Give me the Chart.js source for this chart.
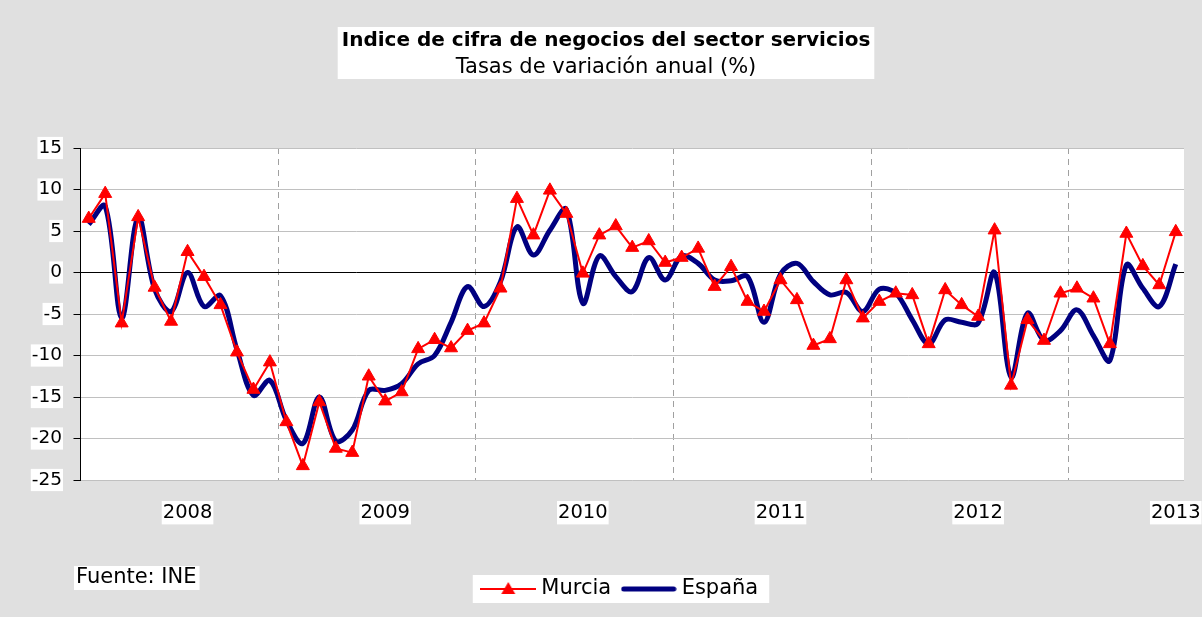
<!DOCTYPE html>
<html>
<head>
<meta charset="utf-8">
<script src="https://cdn.jsdelivr.net/npm/chart.js@4.4.1/dist/chart.umd.min.js"></script>
<style>
    html, body { margin: 0; padding: 0; background: #e0e0e0; }
    #wrap { width: 1202px; height: 617px; position: relative; }
</style>
</head>
<body>
<div id="wrap"><canvas id="serviciosChart"></canvas></div>
<script>
const titleText    = 'Indice de cifra de negocios del sector servicios'
const subtitleText = 'Tasas de variación anual (%)'
const sourceText   = 'Fuente: INE'

const years  = ['2008', '2009', '2010', '2011', '2012', '2013']
const months = ['ene', 'feb', 'mar', 'abr', 'may', 'jun', 'jul', 'ago', 'sep', 'oct', 'nov', 'dic']

// ene-2008 .. jul-2013
const categories = []
years.forEach(y => months.forEach(m => categories.push(m + '-' + y.slice(2))))
categories.length = 67

const murcia = [
    6.5, 9.5, -6.1, 6.7, -1.8, -5.9, 2.5, -0.5, -3.9, -9.6, -14.1, -10.8,
    -18.0, -23.3, -15.6, -21.2, -21.7, -12.5, -15.5, -14.4, -9.2, -8.1, -9.1, -7.0,
    -6.1, -1.9, 8.9, 4.5, 9.9, 7.1, -0.1, 4.5, 5.6, 3.0, 3.8, 1.2,
    1.8, 2.9, -1.7, 0.7, -3.5, -4.7, -0.9, -3.3, -8.8, -8.0, -0.9, -5.5,
    -3.5, -2.5, -2.7, -8.6, -2.1, -3.9, -5.3, 5.1, -13.6, -5.7, -8.2, -2.5,
    -1.9, -3.1, -8.6, 4.7, 0.8, -1.5, 4.9
]
const espana = [
    5.8, 8.0, -5.5, 6.7, -2.0, -4.7, 0.0, -4.1, -2.8, -9.3, -14.8, -13.0,
    -17.8, -20.6, -15.0, -20.3, -19.0, -14.2, -14.2, -13.4, -11.0, -10.0, -6.0, -1.7,
    -4.1, -1.1, 5.5, 2.1, 5.1, 7.6, -3.7, 2.0, -0.5, -2.3, 1.8, -0.9,
    2.0, 1.1, -0.9, -1.0, -0.5, -6.0, -0.2, 1.1, -1.1, -2.7, -2.4, -4.7,
    -2.0, -2.5, -5.7, -8.6, -5.7, -6.0, -6.1, 0.0, -12.6, -4.9, -8.2, -7.0,
    -4.5, -7.6, -10.6, 0.9, -1.9, -4.1, 1.0
]

const FONT = "'DejaVu Sans', sans-serif"

function makeIcon(draw) {
    const c = document.createElement('canvas')
    c.width = 56
    c.height = 18
    draw(c.getContext('2d'))
    return c
}

const legendIcons = [
    makeIcon(ctx => {
        ctx.strokeStyle = '#ff0000'
        ctx.lineWidth = 2
        ctx.beginPath(); ctx.moveTo(0, 9); ctx.lineTo(56, 9); ctx.stroke()
        ctx.fillStyle = '#ff0000'
        ctx.beginPath()
        ctx.moveTo(28, 2); ctx.lineTo(35, 14); ctx.lineTo(21, 14)
        ctx.closePath(); ctx.fill()
    }),
    makeIcon(ctx => {
        ctx.strokeStyle = '#000080'
        ctx.lineWidth = 5
        ctx.lineCap = 'round'
        ctx.beginPath(); ctx.moveTo(3, 9); ctx.lineTo(53, 9); ctx.stroke()
    })
]

// grey background, white plot area and white text boxes
const backdrop = {
    id: 'backdrop',
    afterLayout(chart) {
        chart.legend.left += 16
        chart.legend.right += 16
    },
    beforeDraw(chart) {
        const { ctx, chartArea: a, width, height } = chart
        ctx.save()
        ctx.fillStyle = '#e0e0e0'
        ctx.fillRect(0, 0, width, height)
        ctx.fillStyle = '#ffffff'
        ctx.fillRect(a.left, a.top, a.right - a.left, a.bottom - a.top)

        ctx.font = 'bold 20px ' + FONT
        const tw = ctx.measureText(titleText).width
        const cx = (chart.titleBlock.left + chart.titleBlock.right) / 2
        ctx.fillRect(cx - tw / 2 - 4, 27, tw + 8, 52)

        const hb = chart.legend.legendHitBoxes
        if (hb.length) {
            const last = hb[hb.length - 1]
            const cy = hb[0].top + hb[0].height / 2
            ctx.fillRect(hb[0].left - 13, cy - 14, last.left + last.width + 11 - (hb[0].left - 13), 28)
        }

        ctx.font = '21px ' + FONT
        const sw = ctx.measureText(sourceText).width
        ctx.fillRect(74, 566, sw + 5, 24)
        ctx.fillStyle = '#000000'
        ctx.textBaseline = 'middle'
        ctx.fillText(sourceText, 76, 578)
        ctx.restore()
    }
}

new Chart(document.getElementById('serviciosChart'), {
    type: 'line',
    data: {
        labels: categories,
        datasets: [
            {
                label: 'Murcia',
                data: murcia,
                borderColor: '#ff0000',
                borderWidth: 2,
                tension: 0,
                pointStyle: 'triangle',
                pointRadius: 7.5,
                pointBackgroundColor: '#ff0000',
                pointBorderColor: '#ff0000',
                pointBorderWidth: 1,
            },
            {
                label: 'España',
                data: espana,
                borderColor: '#000080',
                borderWidth: 5,
                tension: 0.35,
                pointRadius: 0,
            }
        ]
    },
    options: {
        responsive: true,
        maintainAspectRatio: false,
        animation: false,
        devicePixelRatio: 1,
        layout: { padding: { left: 28, right: 18, top: 0, bottom: 7.5 } },
        plugins: {
            title: {
                display: true,
                text: titleText,
                color: '#000',
                font: { family: FONT, size: 20, weight: 'bold' },
                padding: { top: 29, bottom: 0 }
            },
            subtitle: {
                display: true,
                text: subtitleText,
                color: '#000',
                font: { family: FONT, size: 21 },
                padding: { top: 2, bottom: 67.8 }
            },
            legend: {
                position: 'bottom',
                labels: {
                    usePointStyle: true,
                    pointStyleWidth: 45,
                    padding: 15,
                    color: '#000',
                    font: { family: FONT, size: 21 },
                    generateLabels(chart) {
                        const items = Chart.defaults.plugins.legend.labels.generateLabels(chart)
                        items.forEach((it, i) => { it.pointStyle = legendIcons[i] })
                        return items
                    }
                }
            },
            tooltip: { enabled: false }
        },
        scales: {
            x: {
                offset: true,
                afterFit: scale => {
                    scale.height = 83.5
                    scale.paddingLeft = 0
                    scale.paddingRight = 0
                },
                grid: {
                    offset: true,
                    drawTicks: false,
                    color: ctx => (ctx.index % 12 === 0 && ctx.index > 0) ? '#a0a0a0' : 'rgba(0,0,0,0)',
                },
                border: { display: false, dash: [6, 5] },
                ticks: {
                    autoSkip: false,
                    maxRotation: 0,
                    minRotation: 0,
                    padding: 21,
                    color: '#000',
                    font: { family: FONT, size: 19.5 },
                    showLabelBackdrop: ctx => ctx.index % 12 === 6,
                    backdropColor: '#ffffff',
                    backdropPadding: { x: 1, y: 0 },
                    callback: (value, i) => i % 12 === 6 ? years[Math.floor(i / 12)] : ''
                }
            },
            y: {
                min: -25,
                max: 15,
                afterFit: scale => { scale.width = 52.5 },
                grid: {
                    color: ctx => (ctx.tick && ctx.tick.value === 0) ? '#000000' : '#c0c0c0',
                    tickColor: '#000000',
                    tickLength: 7,
                },
                border: { color: '#000000', width: 1 },
                ticks: {
                    stepSize: 5,
                    padding: 11.5,
                    color: '#000',
                    font: { family: FONT, size: 18.5 },
                    showLabelBackdrop: true,
                    backdropColor: '#ffffff',
                    backdropPadding: { x: 1, y: 0 },
                }
            }
        }
    },
    plugins: [backdrop]
})
</script>
</body>
</html>
